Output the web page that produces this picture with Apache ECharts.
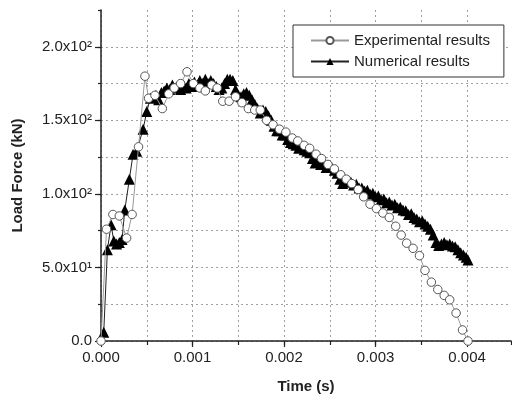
<!DOCTYPE html>
<html>
<head>
<meta charset="utf-8">
<script src="https://cdn.jsdelivr.net/npm/echarts@6/dist/echarts.min.js"></script>
<style>html,body{margin:0;padding:0;background:#fff}#c{width:512px;height:402px}</style>
</head>
<body>
<div id="c"></div>
<script>
// Experimental results: time (s), load force (kN)
const expTime = [0.0000,0.00006,0.00013,0.00020,0.00028,0.00034,0.00041,0.00048,0.00052,0.00059,0.00067,0.00074,0.00080,0.00087,0.00094,0.00101,0.00108,0.00114,0.00121,0.00127,0.00133,0.00140,0.00147,0.00154,0.00161,0.00168,0.00174,0.00181,0.00188,0.00195,0.00202,0.00209,0.00215,0.00222,0.00228,0.00235,0.00241,0.00248,0.00255,0.00262,0.00268,0.00274,0.00281,0.00287,0.00294,0.00301,0.00308,0.00315,0.00322,0.00328,0.00334,0.00341,0.00348,0.00354,0.00361,0.00368,0.00375,0.00381,0.00388,0.00395,0.00401];
const expForce = [0,76,86,85,70,86,132,180,165,167,158,168,172,175,183,175,172,170,174,172,163,163,166,162,158,157,157,150,147,144,142,138,136,133,131,127,124,120,117,113,110,107,103,98,93,90,87,84,78,72,66.5,63,58,48,40,35,31,28,19,7.5,0];

// Numerical results: time (s), load force (kN)
const numTime = [0.00003,0.00007,0.00011,0.00014,0.00017,0.00020,0.00023,0.00026,0.00031,0.00035,0.00039,0.00046,0.00050,0.00054,0.00057,0.00060,0.00063,0.00066,0.00069,0.00072,0.00075,0.00078,0.00081,0.00084,0.00087,0.00090,0.00093,0.00096,0.00099,0.00102,0.00105,0.00108,0.00111,0.00114,0.00117,0.00120,0.00123,0.00126,0.00129,0.00132,0.00135,0.00138,0.00141,0.00144,0.00147,0.00150,0.00153,0.00156,0.00159,0.00162,0.00165,0.00168,0.00171,0.00174,0.00177,0.00180,0.00183,0.00186,0.00189,0.00192,0.00195,0.00198,0.00201,0.00204,0.00207,0.00210,0.00213,0.00216,0.00219,0.00222,0.00225,0.00228,0.00231,0.00234,0.00237,0.00240,0.00243,0.00246,0.00249,0.00252,0.00255,0.00258,0.00261,0.00264,0.00267,0.00270,0.00273,0.00276,0.00279,0.00282,0.00285,0.00288,0.00291,0.00294,0.00297,0.00300,0.00303,0.00306,0.00309,0.00312,0.00315,0.00318,0.00321,0.00324,0.00327,0.00330,0.00333,0.00336,0.00339,0.00342,0.00345,0.00348,0.00351,0.00354,0.00357,0.00360,0.00363,0.00366,0.00369,0.00372,0.00375,0.00378,0.00381,0.00384,0.00387,0.00390,0.00393,0.00396,0.00399,0.00401];
const numForce = [6,62,79,68,66,67,69,89,110,127,129,144,156,165,166,167,164,169,170,172,171,174,172,173,171,174,172,175,173,176,174,177,175,178,175,177,175,173,171,172,175,178,178,177,171,167,166,168,169,167,164,161,158,155,157,156,153,150,146,143,143,140,140,137,135,134,133,131,132,130,129,128,124,121,122,120,120,118,119,118,116,114,110,107,109,108,108,106,106.5,104,104,102,102.5,100,100.5,98,98.5,96,96.5,94,94.5,92.5,93,90.5,91,89,88.5,86,86.5,84,83,81,81.5,79.5,78,76,72,67,65,66,67,65.5,66,64.5,64,62,60,58.5,57,55];

// Axis tick labels
const xTickLabels = ['0.000','0.001','0.002','0.003','0.004'];
const yTickValues = [0,50,100,150,200];
const yTickLabels = ['0.0','5.0x10\u00b9','1.0x10\u00b2','1.5x10\u00b2','2.0x10\u00b2'];

const FONT = 'Liberation Sans, Arial, sans-serif';
const expData = expTime.map((t,i)=>[t,expForce[i]]);
const numData = numTime.map((t,i)=>[t,numForce[i]]);
const gridLine = {show:true, lineStyle:{color:'#a0a0a0', type:[2,3], width:1}, showMaxLine:false};

const chart = echarts.init(document.getElementById('c'), null, {renderer:'canvas'});
chart.setOption({
  animation:false,
  backgroundColor:'#fff',
  grid:{left:101, right:1, top:10, bottom:61},
  legend:{
    data:['Experimental results','Numerical results'],
    orient:'vertical', left:293, top:25,
    itemWidth:38, itemHeight:9, itemGap:6,
    padding:[8,14,8,17],
    borderColor:'#333', borderWidth:1, backgroundColor:'#fff',
    textStyle:{fontFamily:FONT, fontSize:15, color:'#222'}
  },
  xAxis:[
    {type:'value', min:0, max:0.00448, interval:0.0005,
     axisLine:{show:true, lineStyle:{color:'#222', width:1.5}},
     axisTick:{show:true, length:4, lineStyle:{color:'#222', width:1.2}},
     axisLabel:{show:false}, splitLine:gridLine},
    {type:'value', min:0, max:0.00448, interval:0.001, position:'bottom',
     axisLine:{show:false},
     axisTick:{show:true, length:6, lineStyle:{color:'#222', width:1.2}},
     splitLine:{show:false},
     axisLabel:{show:true, margin:9, showMaxLabel:false, fontFamily:FONT, fontSize:15, color:'#222',
       formatter:v=>{const k=Math.round(v/0.001); return (Math.abs(v-k*0.001)<1e-9 && xTickLabels[k]!==undefined)?xTickLabels[k]:'';}},
     name:'Time (s)', nameLocation:'middle', nameGap:38,
     nameTextStyle:{fontFamily:FONT, fontSize:15, fontWeight:'bold', color:'#222'}}
  ],
  yAxis:[
    {type:'value', min:0, max:225, interval:25,
     axisLine:{show:true, lineStyle:{color:'#222', width:1.5}},
     axisTick:{show:true, length:3, lineStyle:{color:'#222', width:1.2}},
     axisLabel:{show:false}, splitLine:gridLine},
    {type:'value', min:0, max:225, interval:50, position:'left',
     axisLine:{show:false},
     axisTick:{show:true, length:6, lineStyle:{color:'#222', width:1.2}},
     splitLine:{show:false},
     axisLabel:{show:true, margin:9, showMaxLabel:false, fontFamily:FONT, fontSize:15, color:'#222',
       formatter:v=>{const i=yTickValues.indexOf(Math.round(v)); return (i>=0 && Math.abs(v-yTickValues[i])<1e-6)?yTickLabels[i]:'';}},
     name:'Load Force (kN)', nameLocation:'middle', nameGap:76,
     nameTextStyle:{fontFamily:FONT, fontSize:15, fontWeight:'bold', color:'#222'}}
  ],
  series:[
    {name:'Numerical results', type:'line', data:numData, xAxisIndex:0, yAxisIndex:0, z:2,
     symbol:'triangle', symbolSize:11, showAllSymbol:true,
     itemStyle:{color:'#000'}, lineStyle:{color:'#222', width:1}},
    {name:'Experimental results', type:'line', data:expData, xAxisIndex:0, yAxisIndex:0, z:3,
     symbol:'circle', symbolSize:8.5, showAllSymbol:true,
     itemStyle:{color:'#fff', borderColor:'#555', borderWidth:1}, lineStyle:{color:'#999', width:1}}
  ]
});
</script>
</body>
</html>
